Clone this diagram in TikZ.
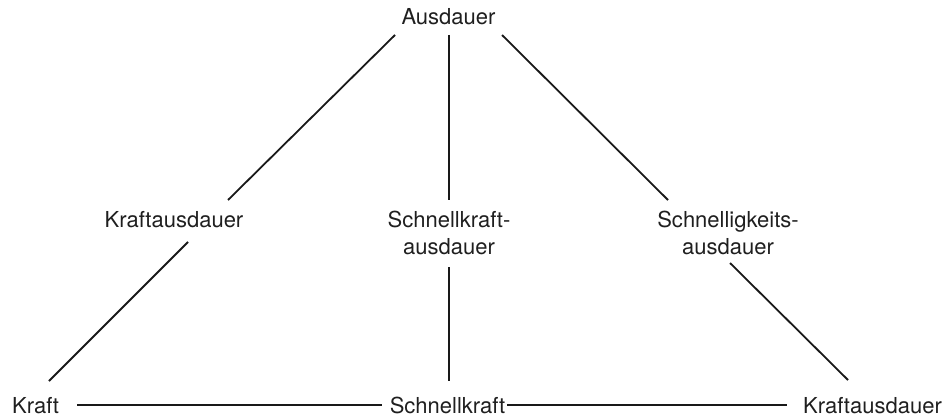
\documentclass[tikz,border=0pt]{standalone}
\usepackage{fontspec}
\setmainfont{TeX Gyre Heros}
\begin{document}
\begin{tikzpicture}[x=1pt,y=-1pt,
  lbl/.style={inner sep=0pt, anchor=base, text=black!88, font=\fontsize{22}{27}\selectfont},
  lbl2/.style={lbl, align=center},
  link/.style={draw=black!90, line width=1.8pt}]
\useasboundingbox (0,0) rectangle (949,417);

% labels (two-line labels are placed by the baseline of their last line)
\node[lbl]  (aus)   at (448.5,25)  {Ausdauer};
\node[lbl]  (kaus)  at (174,227)   {Kraftausdauer};
\node[lbl2] (skaus) at (449,254)   {Schnellkraft-\\ausdauer};
\node[lbl2] (sgaus) at (728,254)   {Schnelligkeits-\\ausdauer};
\node[lbl, anchor=base west] (kraft) at (12,413) {Kraft};
\node[lbl]  (sk)    at (447.5,413) {Schnellkraft};
\node[lbl]  (kaus2) at (872.5,413) {Kraftausdauer};

% connector end points around the labels
\coordinate (a1) at (395,35);   \coordinate (a2) at (228,200);
\coordinate (a3) at (188,242);  \coordinate (a4) at (49,381);
\coordinate (b1) at (449,35);   \coordinate (b2) at (449,200);
\coordinate (b3) at (449,267);  \coordinate (b4) at (449,381);
\coordinate (c1) at (502,35);   \coordinate (c2) at (668,200);
\coordinate (c3) at (730,263);  \coordinate (c4) at (848,380);
\coordinate (h1) at (77,405);   \coordinate (h2) at (382,405);
\coordinate (h3) at (507,405);  \coordinate (h4) at (787,405);

% connectors
\draw[link] (a1) -- (a2);
\draw[link] (a3) -- (a4);
\draw[link] (b1) -- (b2);
\draw[link] (b3) -- (b4);
\draw[link] (c1) -- (c2);
\draw[link] (c3) -- (c4);
\draw[link] (h1) -- (h2);
\draw[link] (h3) -- (h4);
\end{tikzpicture}
\end{document}
